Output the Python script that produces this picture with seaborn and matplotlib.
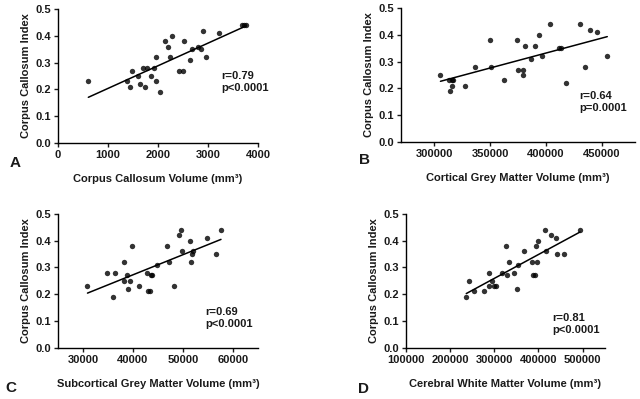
import numpy as np
import pandas as pd
import seaborn as sns
import matplotlib.pyplot as plt

# panel A - corpus callosum volume
cc_vol = [607, 1373, 1447, 1487, 1593, 1633, 1740, 1707, 1780, 1853, 1920, 1953, 1967, 2033,
          2147, 2207, 2247, 2287, 2413, 2500, 2527, 2640, 2680, 2793, 2860, 2893, 2967, 3227,
          3680, 3720, 3760]
cci_a = [0.23, 0.23, 0.21, 0.27, 0.25, 0.22, 0.21, 0.28, 0.28, 0.25, 0.28, 0.23, 0.32, 0.19,
         0.38, 0.36, 0.32, 0.40, 0.27, 0.27, 0.38, 0.31, 0.35, 0.36, 0.35, 0.42, 0.32, 0.41,
         0.44, 0.44, 0.44]

# panel B - cortical grey matter
cgm_vol = [305400, 313400, 315800, 317000, 315800, 314000, 327700, 336300, 350300, 350900,
           362200, 374100, 374700, 379200, 379200, 381000, 386900, 390500, 394000, 396100,
           403600, 411900, 413700, 418500, 431000, 434800, 439300, 445800, 455100]
cci_b = [0.25, 0.23, 0.23, 0.23, 0.21, 0.19, 0.21, 0.28, 0.38, 0.28,
         0.23, 0.38, 0.27, 0.27, 0.25, 0.36, 0.31, 0.36, 0.40, 0.32,
         0.44, 0.35, 0.35, 0.22, 0.44, 0.28, 0.42, 0.41, 0.32]

# panel C - subcortical grey matter
sgm_vol = [30900, 34900, 36500, 36100, 38300, 38300, 38900, 39000, 39400, 39800, 41200,
           42900, 43100, 43500, 43600, 43900, 44800, 46900, 47300, 48300, 49200, 49600,
           49800, 51500, 51700, 51800, 52100, 54900, 56700, 57600]
cci_c = [0.23, 0.28, 0.28, 0.19, 0.32, 0.25, 0.27, 0.22, 0.25, 0.38, 0.23,
         0.28, 0.21, 0.21, 0.27, 0.27, 0.31, 0.38, 0.32, 0.23, 0.42, 0.44,
         0.36, 0.40, 0.32, 0.35, 0.36, 0.41, 0.35, 0.44]

# panel D - cerebral white matter
cwm_vol = [236400, 241700, 253700, 275600, 286900, 288400, 294400, 299700, 304200, 317000,
           325300, 327600, 332100, 343400, 350900, 354700, 367500, 386400, 387100, 391600,
           395400, 396900, 398400, 417300, 414200, 427800, 439100, 442900, 458000, 494100]
cci_d = [0.19, 0.25, 0.21, 0.21, 0.28, 0.23, 0.25, 0.23, 0.23, 0.28,
         0.38, 0.27, 0.32, 0.28, 0.22, 0.31, 0.36, 0.32, 0.27, 0.27,
         0.38, 0.32, 0.40, 0.36, 0.44, 0.42, 0.41, 0.35, 0.35, 0.44]

panels = [
    (cc_vol, cci_a, 'Corpus Callosum Volume (mm³)', 'A', (0, 4000), [0, 1000, 2000, 3000, 4000],
     ['r=0.79', 'p<0.0001'], [0.0906, 0.6424, 0.3125, 0.3343], (221, 82), (10, 163)),
    (cgm_vol, cci_b, 'Cortical Grey Matter Volume (mm³)', 'B', (270000, 480000),
     [300000, 350000, 400000, 450000], ['r=0.64', 'p=0.0001'],
     [0.6266, 0.6449, 0.3656, 0.3343], (579, 102), (359, 160)),
    (sgm_vol, cci_c, 'Subcortical Grey Matter Volume (mm³)', 'C', (25000, 65000),
     [30000, 40000, 50000, 60000], ['r=0.69', 'p<0.0001'],
     [0.0906, 0.1286, 0.3125, 0.3358], (205, 318), (5, 388)),
    (cwm_vol, cci_d, 'Cerebral White Matter Volume (mm³)', 'D', (100000, 550000),
     [100000, 200000, 300000, 400000, 500000], ['r=0.81', 'p<0.0001'],
     [0.6344, 0.1286, 0.3105, 0.3358], (552, 324), (358, 389)),
]

sns.set_style("ticks")
plt.rcParams['font.family'] = ['Liberation Sans', 'DejaVu Sans']
plt.rcParams['font.weight'] = 'bold'
txt = '#1a1a1a'

W, H = 640, 399
fig = plt.figure(figsize=(6.4, 3.99), dpi=100)

for x, y, xlab, letter, xlim, xt, stats, pos, spos, lpos in panels:
    ax = fig.add_axes(pos)
    df = pd.DataFrame({'vol': x, 'idx': y})
    sns.regplot(data=df, x='vol', y='idx', ci=None, ax=ax, color='black',
                scatter_kws={'s': 15, 'linewidths': 0},
                line_kws={'linewidth': 1.1})
    ax.set_xlim(xlim)
    ax.set_ylim(0, 0.5)
    ax.set_xticks(xt)
    ax.set_yticks([0.0, 0.1, 0.2, 0.3, 0.4, 0.5])
    ax.set_yticklabels(['0.0', '0.1', '0.2', '0.3', '0.4', '0.5'])
    sns.despine(ax=ax)
    for s in ['left', 'bottom']:
        ax.spines[s].set_linewidth(1.0)
        ax.spines[s].set_color('black')
    ax.tick_params(length=3, width=1, pad=2, labelsize=8, colors=txt)
    for lb in ax.get_xticklabels() + ax.get_yticklabels():
        lb.set_fontweight('bold')
    ax.set_xlabel(xlab, fontsize=8, fontweight='bold', color=txt, labelpad=10)
    ax.set_ylabel('Corpus Callosum Index', fontsize=8, fontweight='bold', color=txt, labelpad=3)
    fig.text(spos[0] / W, 1 - spos[1] / H, stats[0] + '\n' + stats[1], fontsize=8,
             fontweight='bold', color=txt, va='center', ha='left', linespacing=1.2)
    fig.text(lpos[0] / W, 1 - lpos[1] / H, letter, fontsize=11, fontweight='bold',
             color=txt, va='center', ha='left')

fig.savefig('out.png', dpi=100)
